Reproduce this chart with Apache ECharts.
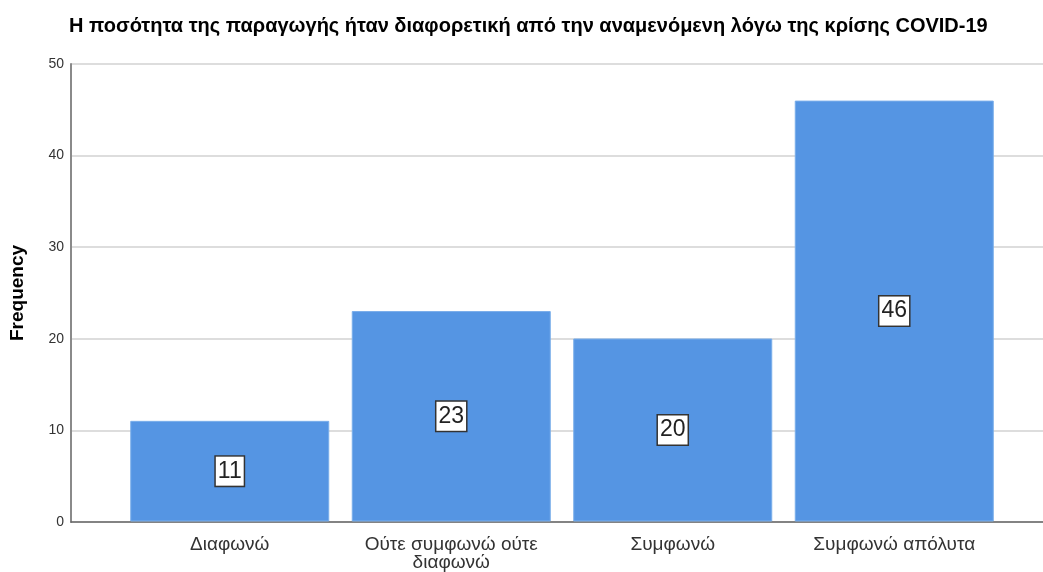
<!DOCTYPE html>
<html><head><meta charset="utf-8">
<script src="https://cdn.jsdelivr.net/npm/echarts@6/dist/echarts.min.js"></script>
<style>html,body{margin:0;padding:0;background:#fff}#c{width:1043px;height:572px}</style>
</head><body><div id="c"></div>
<script>
const categories = ['Διαφωνώ', 'Ούτε συμφωνώ ούτε\nδιαφωνώ', 'Συμφωνώ', 'Συμφωνώ απόλυτα'];
const frequencies = [11, 23, 20, 46];
const yTicks = [0, 10, 20, 30, 40, 50];
const titleText = 'Η ποσότητα της παραγωγής ήταν διαφορετική από την αναμενόμενη λόγω της κρίσης COVID-19';
const yName = 'Frequency';

const chart = echarts.init(document.getElementById('c'), null, {renderer: 'canvas'});
const font = 'Liberation Sans, Arial, sans-serif';
chart.setOption({
  animation: false,
  title: {
    text: titleText, left: 64, top: 11,
    textStyle: {fontFamily: font, fontWeight: 'bold', fontSize: 20, color: '#000'}
  },
  grid: [
    {left: 70, right: 0, top: 64, bottom: 50},
    {left: 119, right: 38, top: 64, bottom: 50}
  ],
  xAxis: [
    {type: 'category', gridIndex: 0, data: ['a'], axisLine: {show: true, lineStyle: {color: '#666', width: 1.5}},
     axisTick: {show: false}, axisLabel: {show: false}, splitLine: {show: false}},
    {type: 'category', gridIndex: 1, data: categories,
     axisLine: {show: false}, axisTick: {show: false},
     axisLabel: {fontFamily: font, fontSize: 19, color: '#333', margin: 14, lineHeight: 18, interval: 0}}
  ],
  yAxis: [
    {type: 'value', gridIndex: 0, min: yTicks[0], max: yTicks[yTicks.length - 1], interval: 10,
     name: yName, nameLocation: 'middle', nameGap: 44, nameRotate: 90,
     nameTextStyle: {fontFamily: font, fontWeight: 'bold', fontSize: 19, color: '#000'},
     axisLine: {show: true, lineStyle: {color: '#8a8a8a', width: 2}},
     axisTick: {show: false},
     axisLabel: {fontFamily: font, fontSize: 14, color: '#333', margin: 7},
     splitLine: {show: true, lineStyle: {color: '#d2d2d2', width: 1.5}}},
    {type: 'value', gridIndex: 1, min: yTicks[0], max: yTicks[yTicks.length - 1], interval: 10, show: false}
  ],
  series: [{
    type: 'bar', xAxisIndex: 1, yAxisIndex: 1, data: frequencies,
    barWidth: 199,
    itemStyle: {color: '#5595e3', borderColor: '#7aaeea', borderWidth: 1},
    label: {
      show: true, position: 'inside', fontFamily: font, fontSize: 23, color: '#222',
      backgroundColor: '#fff', borderColor: '#333', borderWidth: 1.5,
      padding: [4, 2, 2, 2]
    }
  }]
});
</script></body></html>
